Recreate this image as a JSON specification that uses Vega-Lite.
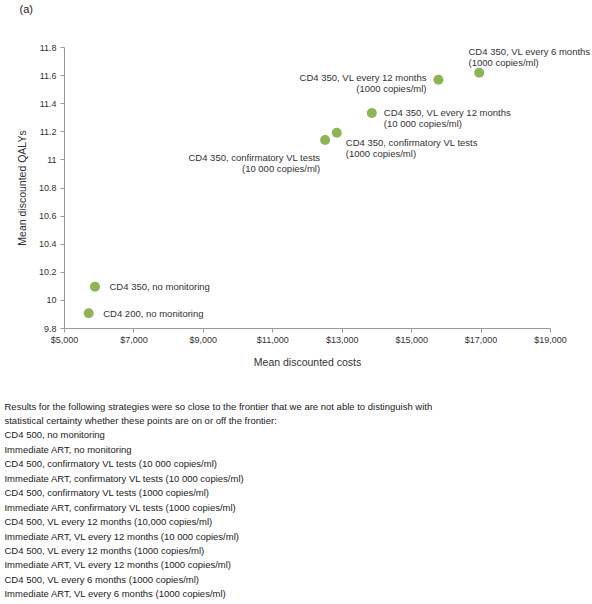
{
  "$schema": "https://vega.github.io/schema/vega-lite/v6.json",
  "padding": {"left": 4, "top": 4, "right": 0, "bottom": 0},
  "background": "white",
  "config": {
    "font": "Liberation Sans",
    "view": {"stroke": null},
    "axis": {
      "grid": false,
      "domainColor": "#9a9a9a",
      "tickColor": "#9a9a9a",
      "tickSize": 4,
      "labelFontSize": 9,
      "labelColor": "#333333",
      "labelPadding": 3,
      "labelFlush": false,
      "titleFontSize": 10.5,
      "titleFontWeight": "normal",
      "titleColor": "#333333"
    }
  },
  "title": {
    "text": [
      "Results for the following strategies were so close to the frontier that we are not able to distinguish with",
      "statistical certainty whether these points are on or off the frontier:",
      "CD4 500, no monitoring",
      "Immediate ART, no monitoring",
      "CD4 500, confirmatory VL tests (10 000 copies/ml)",
      "Immediate ART, confirmatory VL tests (10 000 copies/ml)",
      "CD4 500, confirmatory VL tests (1000 copies/ml)",
      "Immediate ART, confirmatory VL tests (1000 copies/ml)",
      "CD4 500, VL every 12 months (10,000 copies/ml)",
      "Immediate ART, VL every 12 months (10 000 copies/ml)",
      "CD4 500, VL every 12 months (1000 copies/ml)",
      "Immediate ART, VL every 12 months (1000 copies/ml)",
      "CD4 500, VL every 6 months (1000 copies/ml)",
      "Immediate ART, VL every 6 months (1000 copies/ml)"
    ],
    "orient": "bottom",
    "anchor": "start",
    "frame": "bounds",
    "fontSize": 9.5,
    "fontWeight": "normal",
    "lineHeight": 14.45,
    "offset": 34,
    "dx": -13,
    "color": "#222222"
  },
  "vconcat": [
    {
      "title": {
        "text": "(a)",
        "anchor": "start",
        "frame": "bounds",
        "fontSize": 11,
        "fontWeight": "normal",
        "offset": 28,
        "dx": 2,
        "color": "#222222"
      },
      "width": 486,
      "height": 281,
      "data": {
        "values": [
          {"strategy": "CD4 200, no monitoring", "cost": 5712, "qaly": 9.905},
          {"strategy": "CD4 350, no monitoring", "cost": 5893, "qaly": 10.094},
          {"strategy": "CD4 350, confirmatory VL tests\n(10 000 copies/ml)", "cost": 12522, "qaly": 11.138},
          {"strategy": "CD4 350, confirmatory VL tests\n(1000 copies/ml)", "cost": 12859, "qaly": 11.19},
          {"strategy": "CD4 350, VL every 12 months\n(10 000 copies/ml)", "cost": 13867, "qaly": 11.33},
          {"strategy": "CD4 350, VL every 12 months\n(1000 copies/ml)", "cost": 15787, "qaly": 11.567},
          {"strategy": "CD4 350, VL every 6 months\n(1000 copies/ml)", "cost": 16960, "qaly": 11.617}
        ]
      },
      "encoding": {
        "x": {
          "field": "cost",
          "type": "quantitative",
          "scale": {"domain": [5000, 19000], "nice": false},
          "axis": {
            "title": "Mean discounted costs",
            "values": [5000, 7000, 9000, 11000, 13000, 15000, 17000, 19000],
            "format": "$,.0f",
            "titlePadding": 13
          }
        },
        "y": {
          "field": "qaly",
          "type": "quantitative",
          "scale": {"domain": [9.8, 11.8], "nice": false, "zero": false},
          "axis": {
            "title": "Mean discounted QALYs",
            "values": [9.8, 10, 10.2, 10.4, 10.6, 10.8, 11, 11.2, 11.4, 11.6, 11.8],
            "format": ".1~f",
            "labelPadding": 4,
            "titlePadding": 11
          }
        }
      },
      "layer": [
        {
          "mark": {"type": "point", "filled": true, "size": 100, "color": "#8db553", "opacity": 1}
        },
        {
          "transform": [{"filter": {"field": "strategy", "oneOf": ["CD4 200, no monitoring", "CD4 350, no monitoring"]}}],
          "mark": {"type": "text", "align": "left", "baseline": "middle", "dx": 14.5, "dy": 0.5, "fontSize": 9.5, "color": "#333333"},
          "encoding": {"text": {"field": "strategy"}}
        },
        {
          "transform": [{"filter": {"field": "strategy", "oneOf": ["CD4 350, confirmatory VL tests\n(1000 copies/ml)"]}}],
          "mark": {"type": "text", "align": "left", "baseline": "middle", "dx": 9, "dy": 10, "fontSize": 9.5, "lineHeight": 11.3, "lineBreak": "\n", "color": "#333333"},
          "encoding": {"text": {"field": "strategy"}}
        },
        {
          "transform": [{"filter": {"field": "strategy", "oneOf": ["CD4 350, VL every 12 months\n(10 000 copies/ml)"]}}],
          "mark": {"type": "text", "align": "left", "baseline": "middle", "dx": 12, "dy": 0, "fontSize": 9.5, "lineHeight": 11.3, "lineBreak": "\n", "color": "#333333"},
          "encoding": {"text": {"field": "strategy"}}
        },
        {
          "transform": [{"filter": {"field": "strategy", "oneOf": ["CD4 350, VL every 12 months\n(1000 copies/ml)"]}}],
          "mark": {"type": "text", "align": "right", "baseline": "middle", "dx": -12, "dy": -2, "fontSize": 9.5, "lineHeight": 11.3, "lineBreak": "\n", "color": "#333333"},
          "encoding": {"text": {"field": "strategy"}}
        },
        {
          "transform": [{"filter": {"field": "strategy", "oneOf": ["CD4 350, VL every 6 months\n(1000 copies/ml)"]}}],
          "mark": {"type": "text", "align": "left", "baseline": "middle", "dx": -10.7, "dy": -20.7, "fontSize": 9.5, "lineHeight": 11.3, "lineBreak": "\n", "color": "#333333"},
          "encoding": {"text": {"field": "strategy"}}
        },
        {
          "transform": [{"filter": {"field": "strategy", "oneOf": ["CD4 350, confirmatory VL tests\n(10 000 copies/ml)"]}}],
          "mark": {"type": "text", "align": "right", "baseline": "middle", "dx": -5, "dy": 18, "fontSize": 9.5, "lineHeight": 11.3, "lineBreak": "\n", "color": "#333333"},
          "encoding": {"text": {"field": "strategy"}}
        }
      ]
    }
  ]
}
